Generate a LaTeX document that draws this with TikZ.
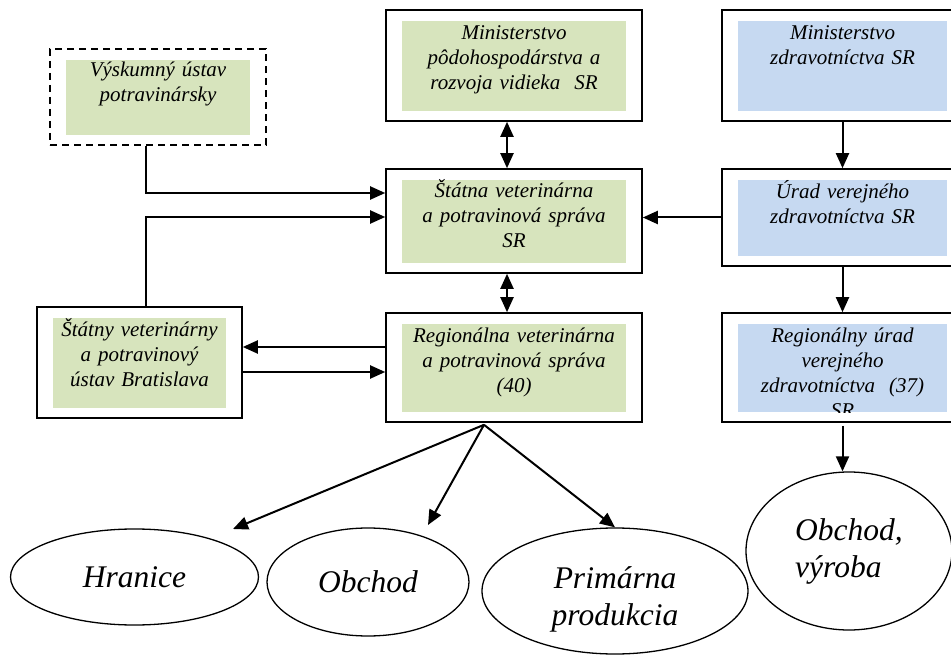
\documentclass[tikz,border=0pt]{standalone}
\usepackage{fontspec}
\setmainfont{Liberation Serif}
\usepackage{tikz}
\usetikzlibrary{shapes.geometric,arrows.meta,positioning,calc}
\definecolor{boxgreen}{RGB}{215,228,189}
\definecolor{boxblue}{RGB}{198,217,241}

\begin{document}
\begin{tikzpicture}[x=1pt,y=-1pt,
    inst/.style={draw,line width=1.6pt,fill=white,inner sep=0pt,
      path picture={\fill[#1] ([shift={(16pt,-11pt)}]path picture bounding box.north west)
        rectangle ([shift={(-16pt,10pt)}]path picture bounding box.south east);}},
    inst/.default=boxgreen,
    txt/.style={align=center,inner sep=0pt,font=\fontsize{21}{25}\selectfont\itshape},
    oval/.style={ellipse,draw,line width=1.3pt,inner sep=0pt,align=center,
      font=\fontsize{31.5}{37}\selectfont\itshape},
    arr/.style={line width=2pt,-{Triangle[length=15pt,width=13pt]}},
    darr/.style={line width=2pt,{Triangle[length=15pt,width=13pt]}-{Triangle[length=15pt,width=13pt]}}]
    \useasboundingbox (0,0) rectangle (951,655);
    \clip (0,0) rectangle (951,655);

    % Left column
    \node[inst,dash pattern=on 7pt off 5pt,minimum width=216pt,minimum height=96pt] (vup) at (158,97) {};
    \node[txt,text width=184pt,below=28pt of vup.north,anchor=base] (vup-t) {Výskumný ústav\\potravinársky};
    \node[inst,minimum width=205pt,minimum height=111pt] (svpu) at (139.5,362.5) {};
    \node[txt,text width=174pt,below=30pt of svpu.north,anchor=base] (svpu-t) {Štátny veterinárny\\a potravinový\\ústav Bratislava};

    % Middle column
    \node[inst,minimum width=256pt,minimum height=111pt] (mpr) at (514,65.5) {};
    \node[txt,text width=224pt,below=30pt of mpr.north,anchor=base] (mpr-t) {Ministerstvo\\pôdohospodárstva a\\rozvoja vidieka~~SR};
    \node[inst,minimum width=256pt,minimum height=104pt] (svps) at (514,221) {};
    \node[txt,text width=224pt,below=29pt of svps.north,anchor=base] (svps-t) {Štátna veterinárna\\a potravinová správa\\SR};
    \node[inst,minimum width=256pt,minimum height=109pt] (rvps) at (514,367.5) {};
    \node[txt,text width=224pt,below=30pt of rvps.north,anchor=base] (rvps-t) {Regionálna veterinárna\\a potravinová správa\\(40)};

    % Right column
    \node[inst=boxblue,minimum width=241pt,minimum height=111pt] (mzd) at (842.5,65.5) {};
    \node[txt,text width=209pt,below=30pt of mzd.north,anchor=base] (mzd-t) {Ministerstvo\\zdravotníctva SR};
    \node[inst=boxblue,minimum width=241pt,minimum height=97pt] (uvz) at (842.5,217.5) {};
    \node[txt,text width=209pt,below=30pt of uvz.north,anchor=base] (uvz-t) {Úrad verejného\\zdravotníctva SR};
    \node[inst=boxblue,minimum width=241pt,minimum height=109pt] (ruvz) at (842.5,367.5) {};
    \begin{scope}
      \clip ([shift={(16pt,10pt)}]ruvz.south west) rectangle ([shift={(-16pt,-11pt)}]ruvz.north east);
      \node[txt,text width=209pt,below=30pt of ruvz.north,anchor=base] (ruvz-t) {Regionálny úrad\\verejného\\zdravotníctva~~(37)\\SR};
    \end{scope}

    % Ovals
    \node[oval,minimum width=248pt,minimum height=96pt] (hr) at (134.5,577) {Hranice};
    \node[oval,minimum width=202pt,minimum height=108pt] (ob) at (368,582) {Obchod};
    \node[oval,minimum width=266pt,minimum height=126pt] (pp) at (615,591) {\rule{0pt}{38pt}Primárna\\produkcia};
    \node[oval,minimum width=206pt,minimum height=158pt,align=left] (ovy) at (849,551) {Obchod,\\výroba};

    % Connectors
    \draw[arr] ([xshift=-12pt]vup.south) |- ([yshift=28pt]svps.west);
    \draw[arr] ([xshift=6.5pt]svpu.north) |- ([yshift=4pt]svps.west);
    \draw[darr] ([xshift=-7pt]mpr.south) -- ([xshift=-7pt]svps.north);
    \draw[darr] ([xshift=-7pt]svps.south) -- ([xshift=-7pt]rvps.north);
    \draw[arr] ([yshift=20.5pt]rvps.west) -- ([yshift=20.5pt]rvps.west -| svpu.east);
    \draw[arr] ([yshift=-9.5pt]svpu.east) -- ([yshift=-9.5pt]svpu.east -| rvps.west);
    \draw[arr] (uvz.west) -- (uvz.west -| svps.east);
    \foreach \a/\b in {mzd/uvz,uvz/ruvz} {
        \draw[arr] (\a.south) -- (\b.north);
    }
    \draw[arr] ([yshift=-3pt]ruvz.south) -- (ruvz.south |- ovy.north);

    % Fan out of the regional office
    \coordinate (fan) at ([xshift=-30pt,yshift=-2pt]rvps.south);
    \coordinate (hr-tip) at (233,529);
    \coordinate (ob-tip) at (428,525);
    \foreach \t in {hr-tip,ob-tip,pp.north} {
        \draw[arr] (fan) -- (\t);
    }
\end{tikzpicture}
\end{document}
